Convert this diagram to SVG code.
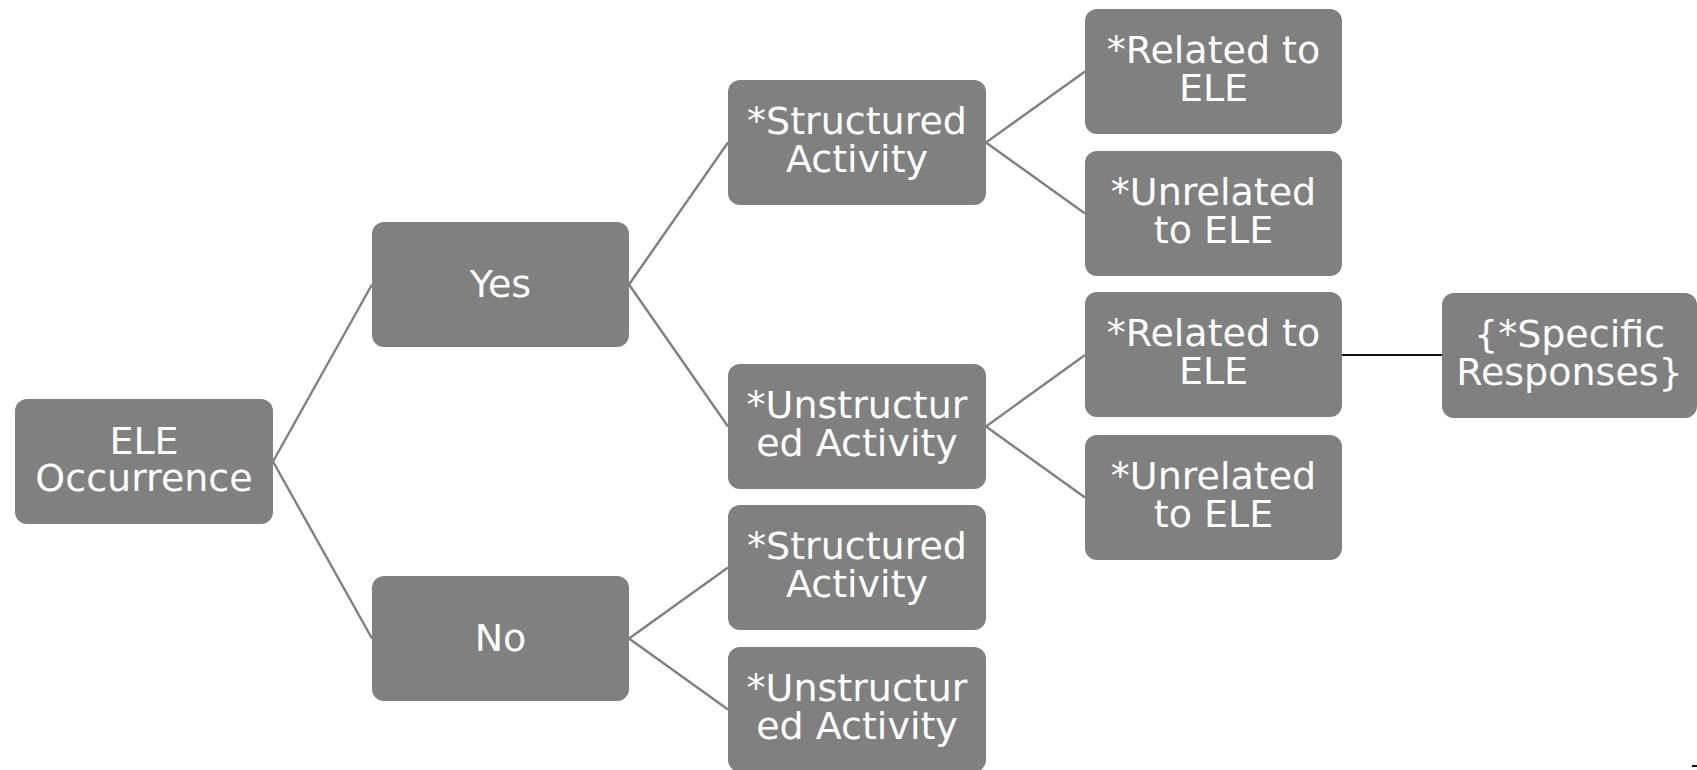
<svg xmlns="http://www.w3.org/2000/svg" width="1697" height="770" viewBox="0 0 1697 770">
<style>
.box{fill:#808080;}
.lbl{fill:#ffffff;font-family:"DejaVu Sans","Liberation Sans",sans-serif;font-size:38px;text-anchor:middle;}
.con{stroke:#808080;stroke-width:2.4;fill:none;}
.con2{stroke:#111111;stroke-width:2;fill:none;}
</style>
<rect width="1697" height="770" fill="#ffffff"/>
<g id="connectors">
<line class="con" x1="273" y1="461.5" x2="372" y2="284.5"/>
<line class="con" x1="273" y1="461.5" x2="372" y2="638.5"/>
<line class="con" x1="629" y1="284.5" x2="728" y2="142.5"/>
<line class="con" x1="629" y1="284.5" x2="728" y2="426.5"/>
<line class="con" x1="629" y1="638.5" x2="728" y2="567.5"/>
<line class="con" x1="629" y1="638.5" x2="728" y2="709.5"/>
<line class="con" x1="986" y1="142.5" x2="1085" y2="71.5"/>
<line class="con" x1="986" y1="142.5" x2="1085" y2="213.5"/>
<line class="con" x1="986" y1="426.5" x2="1085" y2="355"/>
<line class="con" x1="986" y1="426.5" x2="1085" y2="497.5"/>
<line class="con2" x1="1342" y1="355" x2="1442" y2="355"/>
<line class="con2" x1="1692" y1="766" x2="1697" y2="766"/>
</g>
<g id="n-ele">
<rect class="box" x="15" y="399" width="258" height="125" rx="12"/>
<text class="lbl" x="144" y="454">ELE</text>
<text class="lbl" x="144" y="491">Occurrence</text>
</g>
<g id="n-yes">
<rect class="box" x="372" y="222" width="257" height="125" rx="12"/>
<text class="lbl" x="500.5" y="297">Yes</text>
</g>
<g id="n-no">
<rect class="box" x="372" y="576" width="257" height="125" rx="12"/>
<text class="lbl" x="500.5" y="651">No</text>
</g>
<g id="n-struct1">
<rect class="box" x="728" y="80" width="258" height="125" rx="12"/>
<text class="lbl" x="857" y="134">*Structured</text>
<text class="lbl" x="857" y="172">Activity</text>
</g>
<g id="n-unstruct1">
<rect class="box" x="728" y="364" width="258" height="125" rx="12"/>
<text class="lbl" x="857" y="418">*Unstructur</text>
<text class="lbl" x="857" y="456">ed Activity</text>
</g>
<g id="n-struct2">
<rect class="box" x="728" y="505" width="258" height="125" rx="12"/>
<text class="lbl" x="857" y="559">*Structured</text>
<text class="lbl" x="857" y="597">Activity</text>
</g>
<g id="n-unstruct2">
<rect class="box" x="728" y="647" width="258" height="125" rx="12"/>
<text class="lbl" x="857" y="701">*Unstructur</text>
<text class="lbl" x="857" y="739">ed Activity</text>
</g>
<g id="n-rel1">
<rect class="box" x="1085" y="9" width="257" height="125" rx="12"/>
<text class="lbl" x="1213.5" y="63">*Related to</text>
<text class="lbl" x="1213.5" y="101">ELE</text>
</g>
<g id="n-unrel1">
<rect class="box" x="1085" y="151" width="257" height="125" rx="12"/>
<text class="lbl" x="1213.5" y="205">*Unrelated</text>
<text class="lbl" x="1213.5" y="243">to ELE</text>
</g>
<g id="n-rel2">
<rect class="box" x="1085" y="292" width="257" height="125" rx="12"/>
<text class="lbl" x="1213.5" y="346">*Related to</text>
<text class="lbl" x="1213.5" y="384">ELE</text>
</g>
<g id="n-unrel2">
<rect class="box" x="1085" y="435" width="257" height="125" rx="12"/>
<text class="lbl" x="1213.5" y="489">*Unrelated</text>
<text class="lbl" x="1213.5" y="527">to ELE</text>
</g>
<g id="n-specific">
<rect class="box" x="1442" y="293" width="255" height="125" rx="12"/>
<text class="lbl" x="1569.5" y="347">{*Specific</text>
<text class="lbl" x="1569.5" y="385">Responses}</text>
</g>
</svg>
